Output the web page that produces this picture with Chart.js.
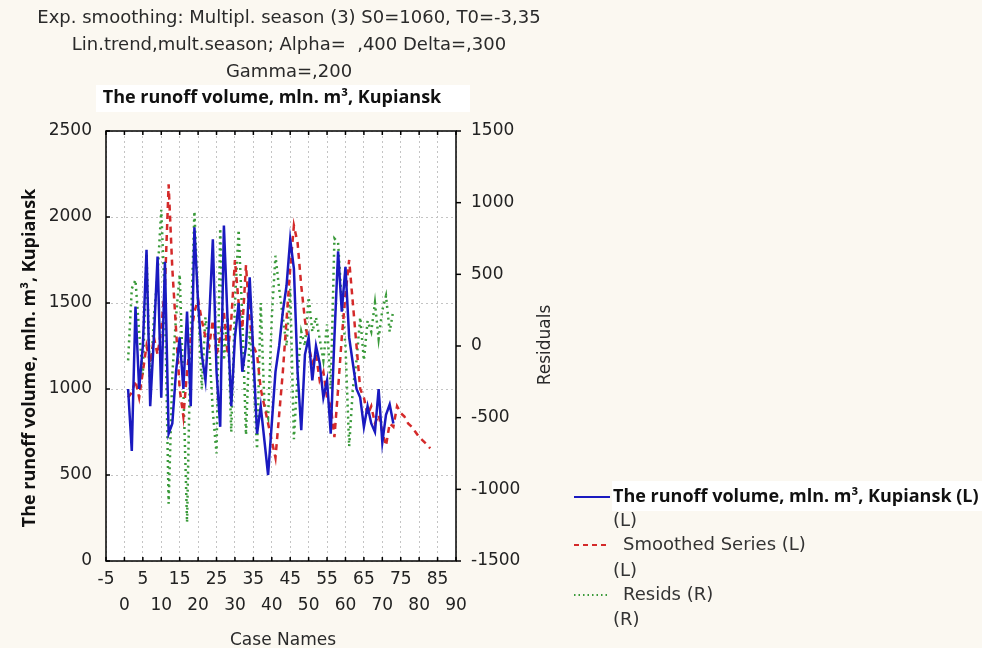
<!DOCTYPE html>
<html>
<head>
<meta charset="utf-8">
<script src="https://cdn.jsdelivr.net/npm/chart.js@4"></script>
<style>
  body { margin: 0; background: #fbf8f1; }
  canvas { display: block; }
</style>
</head>
<body>
<canvas id="chart" width="982" height="648"></canvas>
<script>
// runoff volume, cases 1..73 (left axis)
const runoff = [1000, 640, 1480, 1000, 1250, 1810, 900, 1300, 1770, 950,
  1740, 740, 800, 1100, 1300, 1000, 1450, 900, 1940, 1500,
  1200, 1050, 1400, 1870, 1100, 780, 1950, 1400, 900, 1300,
  1500, 1100, 1250, 1650, 1200, 740, 900, 700, 500, 800,
  1100, 1250, 1450, 1600, 1870, 1700, 1100, 760, 1200, 1300,
  1050, 1250, 1150, 950, 1050, 740, 1300, 1800, 1450, 1710,
  1300, 1150, 1000, 950, 780, 900, 800, 750, 1000, 690,
  850, 910, 800];
// smoothed series, cases 1..83 (left axis)
const smoothed = [950, 980, 1050, 950, 1100, 1250, 1150, 1300, 1200, 1350,
  1600, 2190, 1700, 1350, 1000, 840, 1100, 1300, 1450, 1520,
  1400, 1300, 1250, 1400, 1200, 1300, 1450, 1200, 1400, 1750,
  1500, 1350, 1720, 1400, 1250, 1200, 1000, 900, 800, 700,
  600, 850, 1100, 1400, 1700, 1950, 1850, 1600, 1400, 1250,
  1150, 1200, 1050, 1100, 950, 900, 720, 1000, 1300, 1550,
  1750, 1500, 1250, 1000, 950, 850, 900, 800, 850, 750,
  670, 800, 780, 900, 860, 840, 800, 780, 750, 720,
  700, 680, 655];
// residuals, cases 1..73 (right axis)
const resids = [-100, 400, 460, 100, -200, 650, -300, 200, 500, 950,
  300, -1100, -200, 200, 500, -300, -1230, 100, 940, 300,
  -300, 200, 0, -460, -750, 820, -100, 200, -600, 300,
  810, 200, -620, 100, -200, -720, 300, -400, -500, 200,
  630, 400, 200, 0, 400, -650, -200, 100, 0, 340,
  100, 200, 50, -100, 150, -300, 750, 720, 300, 0,
  -700, -300, -100, 200, -100, 175, 100, 300, 50, 250,
  350, 100, 250];

const leftTicks = [0, 500, 1000, 1500, 2000, 2500];
const rightTicks = [-1500, -1000, -500, 0, 500, 1000, 1500];
const titleLines = [
  'Exp. smoothing: Multipl. season (3) S0=1060, T0=-3,35',
  'Lin.trend,mult.season; Alpha=  ,400 Delta=,300',
  'Gamma=,200'
];
const seriesTitle = 'The runoff volume, mln. m³, Kupiansk';

const toPoints = arr => arr.map((v, i) => ({ x: i + 1, y: v }));

const gridDots = {
  color: '#c4c4c4',
  lineWidth: 1,
  tickLength: 0,
  drawTicks: false
};
const tickFont = { family: 'DejaVu Sans', size: 17 };

const decor = {
  id: 'decor',
  beforeDraw(chart) {
    const { ctx, chartArea: a } = chart;
    ctx.save();
    ctx.fillStyle = '#fbf8f1';
    ctx.fillRect(0, 0, chart.width, chart.height);
    ctx.fillStyle = '#ffffff';
    ctx.fillRect(96, 85, 374, 27);
    ctx.fillRect(612, 481, 370, 30);
    ctx.fillRect(a.left, a.top, a.right - a.left, a.bottom - a.top);
    ctx.restore();
  },
  afterDraw(chart) {
    const { ctx, chartArea: a, scales } = chart;
    ctx.save();
    // frame and inner ticks
    ctx.strokeStyle = '#000';
    ctx.lineWidth = 1.5;
    ctx.strokeRect(a.left, a.top, a.right - a.left, a.bottom - a.top);
    scales.x.ticks.forEach(t => {
      const px = scales.x.getPixelForValue(t.value);
      ctx.beginPath();
      ctx.moveTo(px, a.top); ctx.lineTo(px, a.top + 4);
      ctx.moveTo(px, a.bottom); ctx.lineTo(px, a.bottom - 4);
      ctx.stroke();
    });
    leftTicks.forEach(v => {
      const py = scales.y.getPixelForValue(v);
      ctx.beginPath();
      ctx.moveTo(a.left, py); ctx.lineTo(a.left + 4, py);
      ctx.stroke();
    });
    rightTicks.forEach(v => {
      const py = scales.y1.getPixelForValue(v);
      ctx.beginPath();
      ctx.moveTo(a.right, py); ctx.lineTo(a.right + 5, py);
      ctx.stroke();
    });

    // titles
    ctx.textAlign = 'center';
    ctx.textBaseline = 'middle';
    ctx.fillStyle = '#2a2a2a';
    ctx.font = '18px "DejaVu Sans"';
    titleLines.forEach((s, i) => ctx.fillText(s, 289, 18 + i * 27));
    ctx.fillStyle = '#111';
    ctx.font = 'bold 18px "Open Sans"';
    ctx.fillText(seriesTitle, 272, 98);

    // axis titles
    ctx.font = '17px "DejaVu Sans"';
    ctx.fillStyle = '#2a2a2a';
    ctx.fillText('Case Names', 283, 641);
    ctx.save();
    ctx.translate(546, 345);
    ctx.rotate(-Math.PI / 2);
    ctx.fillText('Residuals', 0, 0);
    ctx.restore();
    ctx.save();
    ctx.translate(30, 358);
    ctx.rotate(-Math.PI / 2);
    ctx.fillStyle = '#111';
    ctx.font = 'bold 18px "Open Sans"';
    ctx.fillText(seriesTitle, 0, 0);
    ctx.restore();

    // legend
    ctx.textAlign = 'left';
    ctx.lineWidth = 2;
    ctx.strokeStyle = '#1a1ac0';
    ctx.setLineDash([]);
    ctx.beginPath(); ctx.moveTo(574, 497); ctx.lineTo(610, 497); ctx.stroke();
    ctx.strokeStyle = '#d42a2a';
    ctx.setLineDash([5, 4]);
    ctx.beginPath(); ctx.moveTo(574, 545); ctx.lineTo(610, 545); ctx.stroke();
    ctx.strokeStyle = '#3a9a3a';
    ctx.setLineDash([1.5, 3]);
    ctx.beginPath(); ctx.moveTo(574, 595); ctx.lineTo(610, 595); ctx.stroke();
    ctx.setLineDash([]);
    ctx.fillStyle = '#111';
    ctx.font = 'bold 18px "Open Sans"';
    ctx.fillText(seriesTitle + ' (L)', 613, 497);
    ctx.fillStyle = '#333';
    ctx.font = '18px "DejaVu Sans"';
    ctx.fillText('(L)', 613, 521);
    ctx.fillText('Smoothed Series (L)', 623, 545);
    ctx.fillText('(L)', 613, 571);
    ctx.fillText('Resids (R)', 623, 595);
    ctx.fillText('(R)', 613, 620);
    ctx.restore();
  }
};

new Chart(document.getElementById('chart'), {
  type: 'line',
  data: {
    datasets: [
      {
        label: seriesTitle,
        data: toPoints(runoff),
        yAxisID: 'y',
        borderColor: '#1a1ac0',
        borderWidth: 2.5,
        pointRadius: 0,
        tension: 0
      },
      {
        label: 'Smoothed Series',
        data: toPoints(smoothed),
        yAxisID: 'y',
        borderColor: '#d42a2a',
        borderWidth: 2.5,
        borderDash: [6, 5],
        pointRadius: 0,
        tension: 0
      },
      {
        label: 'Resids',
        data: toPoints(resids),
        yAxisID: 'y1',
        borderColor: '#3a9a3a',
        borderWidth: 2.5,
        borderDash: [2, 4],
        pointRadius: 0,
        tension: 0
      }
    ]
  },
  options: {
    responsive: false,
    animation: false,
    layout: { padding: { top: 131, left: 0, right: 456, bottom: 0 } },
    plugins: {
      legend: { display: false },
      tooltip: { enabled: false }
    },
    scales: {
      x: {
        type: 'linear',
        min: -5,
        max: 90,
        afterFit: s => { s.height = 87; },
        ticks: {
          stepSize: 5,
          autoSkip: false,
          maxRotation: 0,
          padding: 5,
          color: '#222',
          font: { ...tickFont, lineHeight: 1.55 },
          callback: v => (v / 5) % 2 ? [String(v), ''] : ['', String(v)]
        },
        grid: { ...gridDots },
        border: { display: false, dash: [2, 3] }
      },
      y: {
        position: 'left',
        min: 0,
        max: 2500,
        afterFit: s => { s.width = 106; },
        ticks: {
          stepSize: 500,
          padding: 14,
          color: '#222',
          font: tickFont,
          callback: v => String(v)
        },
        grid: { ...gridDots },
        border: { display: false, dash: [2, 3] }
      },
      y1: {
        position: 'right',
        min: -1500,
        max: 1500,
        afterFit: s => { s.width = 70; },
        ticks: {
          stepSize: 500,
          padding: 7,
          color: '#222',
          font: tickFont,
          callback: v => String(v)
        },
        grid: { display: false },
        border: { display: false }
      }
    }
  },
  plugins: [decor]
});
</script>
</body>
</html>
